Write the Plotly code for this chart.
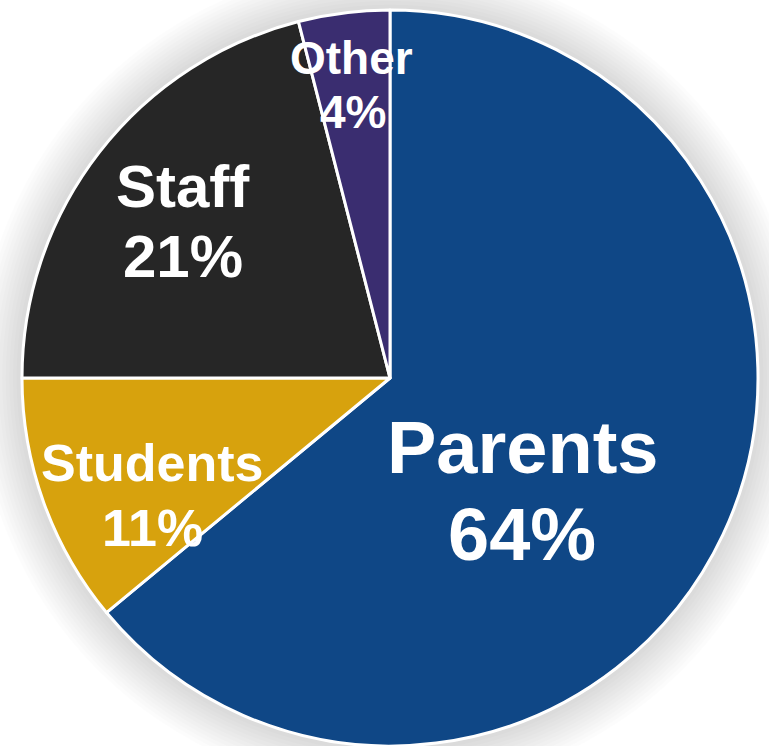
import plotly.graph_objects as go

# ---- data ----
categories = ["Parents", "Students", "Staff", "Other"]
values = [64, 11, 21, 4]

# ---- style ----
colors = ["#0F4786", "#D7A20D", "#262626", "#3A2D70"]
label_sizes = [74, 52, 60, 46]
# label block positions in pixels (x, y of line 1; x, y of line 2)
label_px = [
    ((522, 447), (522, 534)),
    ((152, 463), (152, 528)),
    ((183, 186), (183, 256)),
    ((351, 58), (353, 112)),
]

W, H = 769, 746
CX, CY, R = 390, 378, 368  # pie centre (px from top-left) and radius

def px2paper(x, y):
    return x / W, (H - y) / H

fig = go.Figure()
fig.add_trace(go.Pie(
    labels=categories,
    values=values,
    sort=False,
    direction="clockwise",
    rotation=0,
    marker=dict(colors=colors, line=dict(color="white", width=3)),
    textinfo="none",
    hoverinfo="label+percent",
    showlegend=False,
    domain=dict(x=[(CX - R) / W, (CX + R) / W], y=[0, 2 * R / H]),
))

# soft shadow around the pie
shapes = []
n_layers = 12
for i in range(n_layers, 0, -1):
    rr = R + 2 + i * 3.6
    x0, y1 = px2paper(CX - rr, CY - rr)
    x1, y0 = px2paper(CX + rr, CY + rr)
    shapes.append(dict(type="circle", xref="paper", yref="paper",
                       x0=x0, x1=x1, y0=y0, y1=y1, layer="below",
                       line=dict(width=0), fillcolor="rgba(0,0,0,0.01)"))

total = sum(values)
annotations = []
for cat, val, size, (p1, p2) in zip(categories, values, label_sizes, label_px):
    pct = f"{round(100 * val / total)}%"
    for txt, (x, y) in ((cat, p1), (pct, p2)):
        ax, ay = px2paper(x, y)
        annotations.append(dict(
            text=txt, x=ax, y=ay, xref="paper", yref="paper",
            xanchor="center", yanchor="middle", showarrow=False,
            font=dict(family="Liberation Sans, Arial, sans-serif", size=size,
                      color="white", weight="bold"),
        ))

fig.update_layout(
    width=W, height=H,
    margin=dict(l=0, r=0, t=0, b=0),
    paper_bgcolor="white",
    plot_bgcolor="white",
    shapes=shapes,
    annotations=annotations,
)

fig.write_html("out.html", config={"displayModeBar": False},
               post_script="document.body.style.margin='0px';document.body.style.overflow='hidden';")
